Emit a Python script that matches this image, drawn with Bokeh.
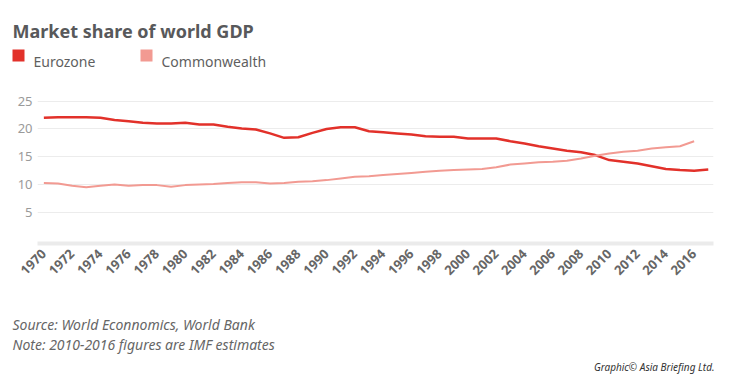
import math
from bokeh.plotting import figure
from bokeh.models import Range1d, FixedTicker
from bokeh.core.properties import value
from bokeh.embed import file_html
from bokeh.resources import INLINE

# ---- data ----
euro_years = list(range(1970, 2018))
eurozone = [22.0, 22.1, 22.1, 22.1, 22.0, 21.6, 21.4, 21.1, 21.0, 21.0,
            21.1, 20.8, 20.8, 20.4, 20.1, 19.9, 19.2, 18.4, 18.5, 19.3,
            20.0, 20.3, 20.3, 19.6, 19.4, 19.2, 19.0, 18.7, 18.6, 18.6,
            18.3, 18.3, 18.3, 17.8, 17.4, 16.9, 16.5, 16.1, 15.8, 15.3,
            14.4, 14.1, 13.8, 13.3, 12.8, 12.6, 12.5, 12.7]
cw_years = list(range(1970, 2017))
commonwealth = [10.3, 10.2, 9.8, 9.5, 9.8, 10.0, 9.8, 9.9, 9.9, 9.6,
                9.9, 10.0, 10.1, 10.3, 10.4, 10.4, 10.2, 10.3, 10.5, 10.6,
                10.8, 11.1, 11.4, 11.5, 11.7, 11.9, 12.1, 12.3, 12.5, 12.6,
                12.7, 12.8, 13.1, 13.6, 13.8, 14.0, 14.1, 14.3, 14.7, 15.2,
                15.6, 15.9, 16.1, 16.5, 16.7, 16.9, 17.8]
x_ticks = list(range(1970, 2017, 2))
y_ticks = [5, 10, 15, 20, 25]
series_names = ["Eurozone", "Commonwealth"]
series_colors = ["#e2312a", "#f29a92"]
title_text = "Market share of world GDP"
source_text = "Source: World Econnomics, World Bank"
note_text = "Note: 2010-2016 figures are IMF estimates"
credit_text = "Graphic\u00a9 Asia Briefing Ltd."

FONT = "Noto Sans"
W = 730
TOP_H, MAIN_H, BOT_H = 86, 203, 88


def blank_fig(h):
    f = figure(width=W, height=h, output_backend="svg", toolbar_location=None,
               x_range=Range1d(0, W), y_range=Range1d(h, 0),
               x_axis_type=None, y_axis_type=None,
               min_border=0, min_border_left=0, min_border_right=0,
               min_border_top=0, min_border_bottom=0)
    f.outline_line_color = None
    f.xgrid.visible = False
    f.ygrid.visible = False
    return f


# ---- header: title + legend ----
top = blank_fig(TOP_H)
top.text(x=[12], y=[30], text=[title_text], text_font=value(FONT),
         text_font_size="18px", text_font_style="bold", text_color="#58595b",
         text_baseline="alphabetic", text_align="left")
key_x = [12, 140]
top.rect(x=[k + 6 for k in key_x], y=[55, 55], width=12, height=12,
         fill_color=series_colors, line_color=None)
top.text(x=[k + 21 for k in key_x], y=[61, 61], text=series_names,
         text_font=value(FONT), text_font_size="14px", text_color="#5f5f5f",
         text_baseline="alphabetic", text_align="left")

# ---- main chart ----
p = figure(width=W, height=MAIN_H, output_backend="svg", toolbar_location=None,
           x_range=Range1d(1969.55, 2017.37), y_range=Range1d(-0.6, 26.2),
           min_border_left=37, min_border_right=17, min_border_top=8,
           min_border_bottom=46)
p.outline_line_color = None
p.xgrid.grid_line_color = None
p.ygrid.grid_line_color = "#ececec"
p.ygrid.grid_line_width = 1
p.ygrid.ticker = FixedTicker(ticks=y_ticks)

xa = p.xaxis[0]
xa.ticker = FixedTicker(ticks=x_ticks)
xa.axis_line_color = "#ebebeb"
xa.axis_line_width = 4
xa.major_tick_line_color = None
xa.minor_tick_line_color = None
xa.major_tick_out = 0
xa.major_label_orientation = math.pi / 4
xa.major_label_text_color = "#666666"
xa.major_label_text_font = FONT
xa.major_label_text_font_size = "13px"
xa.major_label_text_font_style = "bold"
xa.major_label_standoff = 8

ya = p.yaxis[0]
ya.ticker = FixedTicker(ticks=y_ticks)
ya.axis_line_color = None
ya.major_tick_line_color = None
ya.minor_tick_line_color = None
ya.major_tick_out = 0
ya.major_label_text_color = "#9a9a9a"
ya.major_label_text_font = FONT
ya.major_label_text_font_size = "13px"
ya.major_label_standoff = 5

p.line(euro_years, eurozone, line_color=series_colors[0], line_width=2.5)
p.line(cw_years, commonwealth, line_color=series_colors[1], line_width=2)

# ---- footer ----
bot = blank_fig(BOT_H)
bot.text(x=[12, 12], y=[35, 55], text=[source_text, note_text],
         text_font=value(FONT), text_font_size="14px", text_font_style="italic",
         text_color="#666666", text_baseline="alphabetic", text_align="left")
bot.text(x=[714], y=[77], text=[credit_text], text_font=value(FONT),
         text_font_size="10px", text_font_style="italic", text_color="#333333",
         text_baseline="alphabetic", text_align="right")

open("out.html", "w").write(file_html([top, p, bot], INLINE))
